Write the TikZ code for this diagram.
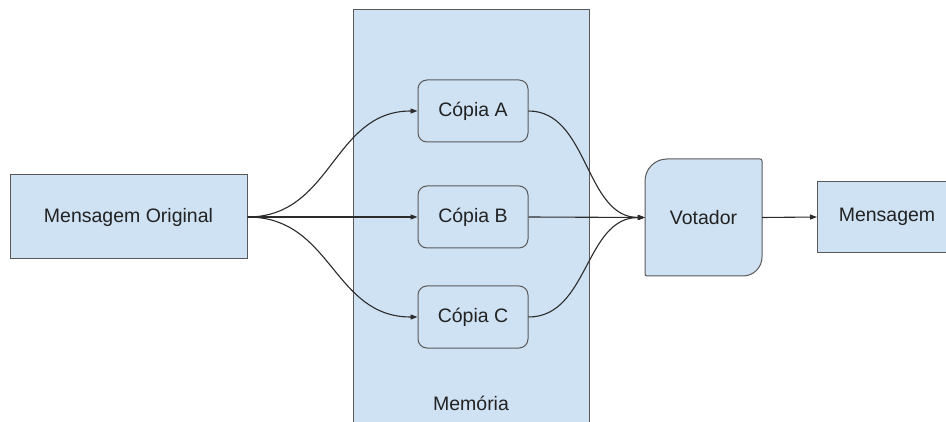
\documentclass[tikz,border=0pt]{standalone}
\usepackage{fontspec}
\setmainfont{Liberation Sans}
\usetikzlibrary{arrows.meta}
\definecolor{boxfill}{HTML}{CFE2F3}
\definecolor{boxline}{HTML}{595959}
\definecolor{wire}{HTML}{2B2B2B}
\definecolor{ink}{HTML}{222222}
\tikzset{
  box/.style={draw=boxline, fill=boxfill, line width=1pt, text=ink,
    font=\fontsize{19.5}{23}\selectfont, inner sep=0pt},
  copybox/.style={box, rounded corners=9pt, minimum width=110pt, minimum height=62pt},
  conn/.style={draw=wire, line width=1.1pt, -{Triangle[length=7pt,width=5pt]}},
  lbl/.style={text=ink, font=\fontsize{19.5}{23}\selectfont, inner sep=0pt}
}
\begin{document}
\begin{tikzpicture}[x=1pt,y=1pt]
\useasboundingbox (0,0) rectangle (946,421);
\fill[white] (0,0) rectangle (946,421);
\clip (0,0) rectangle (946,421);

% memory block (runs past the lower edge)
\node[box, minimum width=236pt, minimum height=432pt, anchor=north west] (mem) at (353,412) {};
\node[lbl] (memlabel) at (471,18) {Memória};

% source message
\node[box, minimum width=237pt, minimum height=84pt] (orig) at (128.5,204) {Mensagem Original};

% the three copies
\node[copybox] (ca) at (473,310) {Cópia A};
\node[copybox] (cb) at (473,204) {Cópia B};
\node[copybox] (cc) at (473,104) {Cópia C};

% voter: large rounding on top-left and bottom-right corners
\draw[draw=boxline, fill=boxfill, line width=1pt]
  (645,200) -- (645,240) arc[start angle=180, end angle=90, radius=22]
  -- (760,262) arc[start angle=90, end angle=0, radius=2]
  -- (762,164) arc[start angle=0, end angle=-90, radius=19]
  -- (647,145) arc[start angle=270, end angle=180, radius=2] -- cycle;
\node[lbl, minimum width=117pt, minimum height=117pt] (vot) at (703.5,203.5) {Votador};

% output message (runs past the right edge)
\node[box, minimum width=140pt, minimum height=71pt, anchor=west] (out) at (817,204) {};
\node[lbl] (outlabel) at (887,204) {Mensagem};

% connectors
\draw[conn] (orig.east) .. controls +(85,0) and +(-85,0) .. (ca.west);
\draw[conn] (orig.east) -- (cb.west);
\draw[conn] (orig.east) .. controls +(85,0) and +(-85,0) .. (cc.west);
\draw[conn] (ca.east) .. controls +(60,0) and +(-60,0) .. (vot.west);
\draw[conn] (cb.east) -- (vot.west);
\draw[conn] (cc.east) .. controls +(60,0) and +(-60,0) .. (vot.west);
\draw[conn] (vot.east) -- (out.west);
\end{tikzpicture}
\end{document}
